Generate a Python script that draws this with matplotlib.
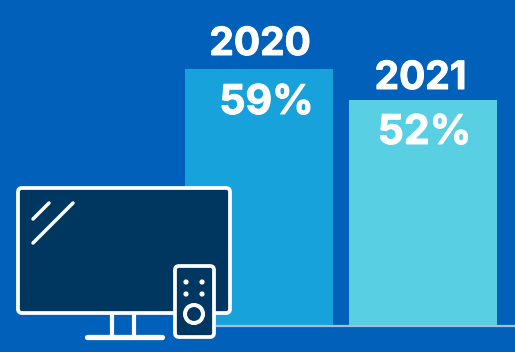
import matplotlib
matplotlib.use("Agg")
import matplotlib.pyplot as plt
import matplotlib.patheffects as pe
from matplotlib.patches import FancyBboxPatch, Circle

years = ["2020", "2021"]
shares = [59, 52]
bar_centres = [259, 423]
bar_colors = ["#17A2DC", "#58CFE2"]
bar_labels = ["59%", "52%"]

BG = "#0060BA"
NAVY = "#003760"
WHITE = "#FFFFFF"
PX_PER_PCT = 4.35
BASE_PX = 326
H = 352

plt.rcParams["font.family"] = ["Inter", "DejaVu Sans"]
fig = plt.figure(figsize=(5.15, 3.52), dpi=100, facecolor=BG)

# Value axes: x in pixels, y in percent with zero on the baseline
ax = fig.add_axes([0, 0, 1, 1], facecolor=BG)
ax.set_xlim(0, 515)
ax.set_ylim(-(H - BASE_PX) / PX_PER_PCT, BASE_PX / PX_PER_PCT)
ax.axis("off")
ax.bar(bar_centres, shares, width=148, color=bar_colors, zorder=2)
ax.hlines(0, 216, 515, color="#AEBBCB", lw=1.6, zorder=3)


def py(pixel):
    return (BASE_PX - pixel) / PX_PER_PCT


heavier = [pe.withStroke(linewidth=0.7, foreground=WHITE)]
year_x = [260, 420.5]
year_base = [55, 89]
pct_x = [266.5, 424.5]
pct_base = [114, 144]
for i in range(2):
    ax.text(year_x[i], py(year_base[i]), years[i], color=WHITE, fontsize=28,
            fontweight="bold", ha="center", va="baseline", zorder=5, path_effects=heavier)
    ax.text(pct_x[i], py(pct_base[i]), bar_labels[i], color=WHITE, fontsize=29.5,
            fontweight="bold", ha="center", va="baseline", zorder=5, path_effects=heavier)

# Television and remote icon, laid out in pixel coordinates
icon = fig.add_axes([0, 0, 1, 1], facecolor="none")
icon.set_xlim(0, 515)
icon.set_ylim(352, 0)
icon.axis("off")


def rounded(x0, y0, x1, y1, r, z):
    icon.add_patch(FancyBboxPatch((x0 + r, y0 + r), x1 - x0 - 2 * r, y1 - y0 - 2 * r,
                                  boxstyle=f"round,pad={r},rounding_size={r}",
                                  fc=NAVY, ec=WHITE, lw=2.7, zorder=z))


def stroke(xs, ys, width=2.7, z=4):
    icon.plot(xs, ys, color=WHITE, lw=width, solid_capstyle="round", zorder=z)


rounded(18, 188, 230, 313, 4, 3)
stroke([33, 49], [219, 203], 2.5)
stroke([33, 73], [243, 203], 2.5)
stroke([112, 112], [314, 336], 3)
stroke([134, 134], [314, 336], 3)
stroke([87, 162], [337, 337], 3.8)
rounded(175, 266, 214, 337, 4, 5)
for dx in (186, 202):
    for dy in (282, 294):
        icon.add_patch(Circle((dx, dy), 2.6, fc=WHITE, ec="none", zorder=6))
icon.add_patch(Circle((194, 314), 9, fc=NAVY, ec=WHITE, lw=2.9, zorder=6))

fig.savefig("out.png", dpi=100, facecolor=BG)
